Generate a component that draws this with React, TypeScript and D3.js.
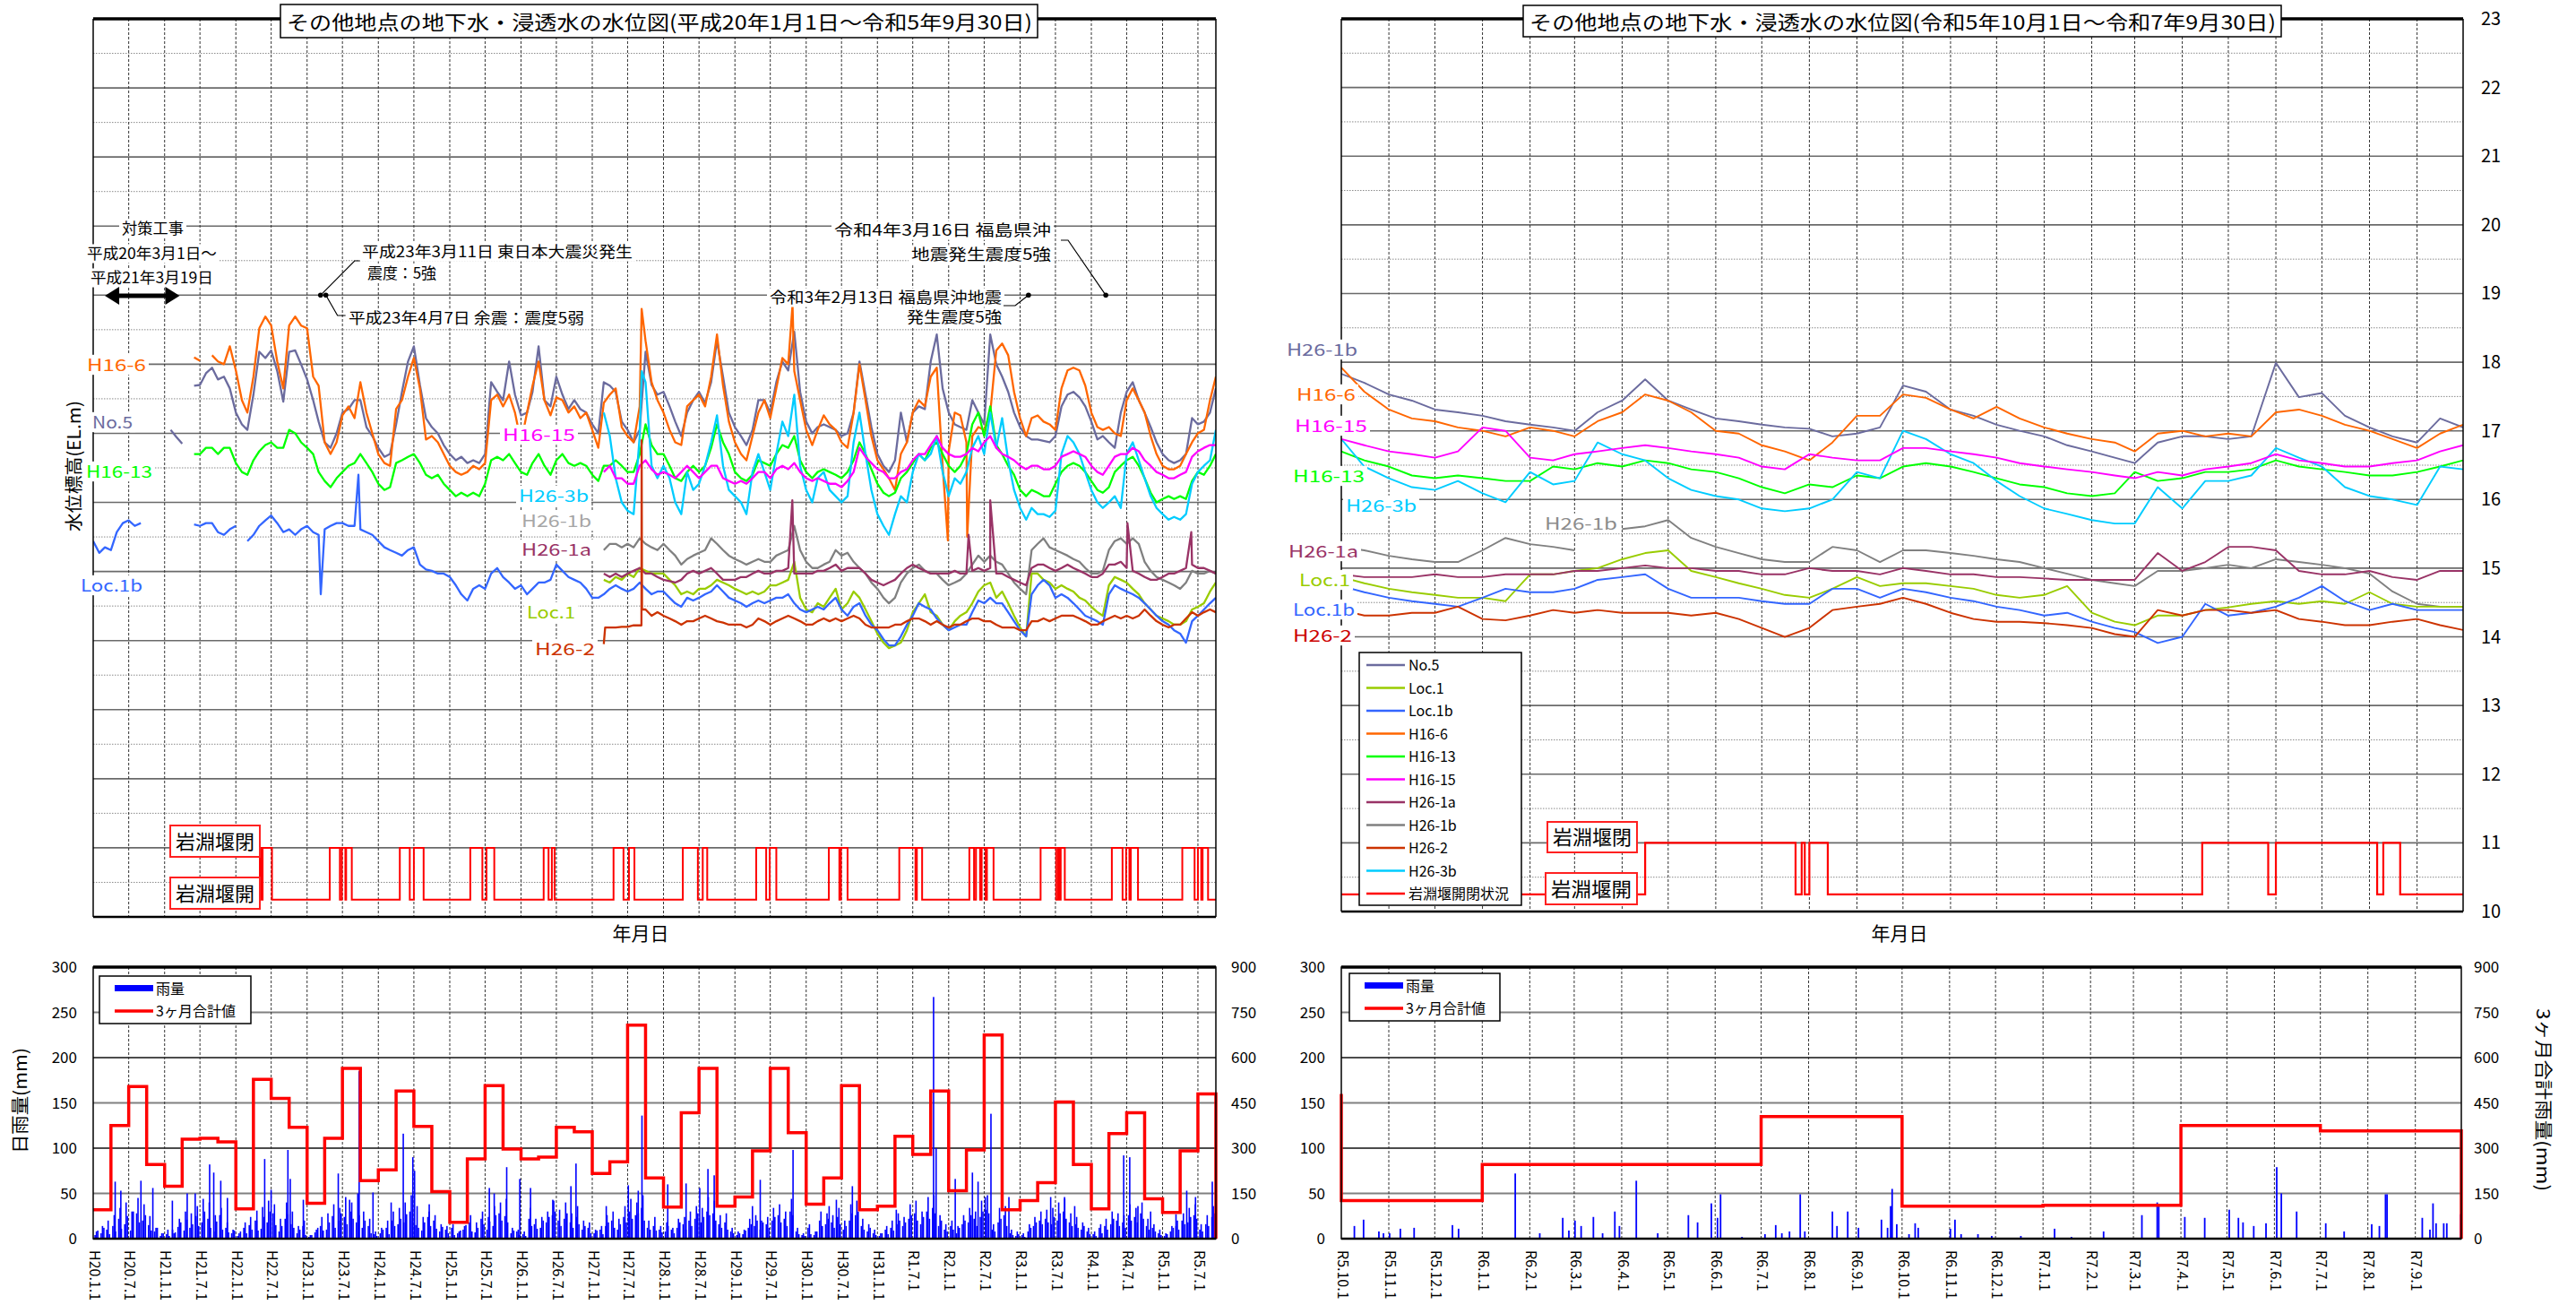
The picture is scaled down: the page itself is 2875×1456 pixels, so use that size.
import React from 'react';
import * as d3 from 'd3';

const FONT = '"Noto Sans CJK JP","Noto Sans",sans-serif';

// ---------------- colours ----------------
const C: any = {
  no5: '#6B6B9E', loc1: '#99CC00', loc1b: '#3366FF', h166: '#FF6600', h1613: '#00FF00',
  h1615: '#FF00FF', h261a: '#993366', h261b: '#808080', h262: '#CC3300', h263b: '#00CCFF', dam: '#FF0000',
};

// ---------------- left panel water levels (monthly, value on the 1st) ----------------
const NO5_L_START = '2009-02';
const NO5_L = [
  17.05, 16.95, 16.85, null, 17.69, 17.7, 17.87, 17.95, 17.78, 17.82, 17.65,
  17.3, 17.13, 17.05, 17.56, 18.18, 18.09, 18.2, 17.9, 17.46, 18.18, 18.2, 18.0,
  17.78, 17.48, 17.17, 16.87, 16.79, 17.0, 17.3, 17.35, 17.48, 17.48, 17.09, 16.96,
  16.79, 16.66, 16.7, 17.13, 17.6, 18.04, 18.26, 17.7, 17.22, 17.09, 17.0, 16.83,
  16.7, 16.61, 16.66, 16.57, 16.61, 16.57, 16.7, 17.74, 17.6, 17.48, 18.04, 17.56,
  17.26, 17.3, 17.6, 18.26, 17.48, 17.39, 17.82, 17.56, 17.35, 17.48, 17.35, 17.3,
  17.13, 17.0, 17.74, 17.69, 17.6, 17.17, 17.05, 16.87, 17.05, 18.18, 17.7, 17.56,
  17.6, 17.39, 17.17, 16.96, 17.3, 17.48, 17.6, 17.44, 17.74, 18.34, 17.82, 17.3,
  17.09, 16.96, 16.83, 17.05, 17.48, 17.48, 17.3, 17.74, 18.04, 17.91, 18.47, 17.6,
  17.17, 17.0, 17.09, 17.13, 17.09, 17.05, 16.96, 17.0, 17.3, 18.04, 17.56, 17.09,
  16.7, 16.53, 16.44, 16.61, 17.3, 16.87, 17.3, 17.39, 17.35, 18.04, 18.43, 17.65,
  17.3, 17.13, 17.09, 17.05, 17.48, 17.3, 17.13, 18.43, 18.0, 17.82, 17.6, 17.3,
  17.09, 16.96, 16.91, 16.91, 16.89, 16.87, 16.96, 17.39, 17.56, 17.6, 17.52, 17.39,
  17.17, 16.91, 16.96, 16.87, 16.79, 17.3, 17.6, 17.74, 17.48, 17.3, 17.09, 16.87,
  16.7, 16.61, 16.57, 16.61, 16.7, 17.22, 17.13, 17.17, 17.3, 17.65,
];
const H166_L_START = '2009-04';
const H166_L = [
  17.65, null, 18.1, 18.05, null, 18.13, 18.04, 18.0, 18.26,
  17.91, 17.48, 17.3, 17.82, 18.52, 18.69, 18.56, 18.04, 17.65, 18.56, 18.69, 18.56,
  18.52, 17.82, 17.69, 16.87, 16.7, 16.87, 17.26, 17.39, 17.22, 17.74, 17.3, 17.0,
  16.7, 16.57, 16.53, 17.35, 17.48, 17.82, 18.09, 17.65, 16.91, 16.96, 16.87, 16.7,
  16.53, 16.44, 16.4, 16.44, 16.53, 16.48, 16.57, 17.48, 17.56, 17.39, 17.56, 17.3,
  16.87, 17.3, 17.69, 18.04, 17.48, 17.26, 17.52, 17.48, 17.3, 17.39, 17.22, 17.3,
  17.05, 16.79, 17.44, 17.56, 17.65, 17.09, 16.96, 16.87, 17.39, 18.34, 17.74, 17.48,
  17.3, 17.05, 16.87, 16.83, 17.39, 17.48, 17.56, 17.39, 17.82, 18.43, 17.69, 17.17,
  16.87, 16.7, 16.61, 16.96, 17.3, 17.48, 17.22, 17.65, 18.09, 18.0, 17.9, 17.48,
  17.05, 16.83, 17.05, 17.26, 17.13, 17.05, 16.87, 16.79, 17.3, 18.0, 17.48, 16.96,
  16.61, 16.48, 16.35, 16.18, 16.7, 16.87, 17.3, 17.48, 17.39, 17.82, 17.95, 16.53,
  16.74, 17.3, 17.26, 16.87, 16.96, 17.09, 17.05, 17.3, 18.2, 18.3, 18.13, 17.6,
  17.22, 16.96, 17.22, 17.26, 17.17, 17.13, 17.05, 17.65, 17.91, 17.95, 17.91, 17.69,
  17.3, 17.09, 17.05, 17.09, 17.0, 16.96, 17.48, 17.65, 17.48, 17.3, 16.96, 16.7,
  16.53, 16.48, 16.48, 16.53, 16.7, 16.87, 17.0, 17.05, 17.48, 17.82,
];
const H166_L_SPIKES = [['2015-09-11', 18.8], ['2017-10-23', 18.86], ['2019-12-28', 15.45], ['2020-04-05', 15.5]];
const H1613_L_START = '2009-06';
const H1613_L = [
  16.7, 16.7, 16.79, 16.79, 16.7, 16.79, 16.79,
  16.57, 16.44, 16.4, 16.61, 16.74, 16.83, 16.87, 16.79, 16.79, 17.05, 17.0, 16.87,
  16.79, 16.7, 16.44, 16.31, 16.22, 16.35, 16.44, 16.53, 16.57, 16.7, 16.57, 16.44,
  16.27, 16.18, 16.22, 16.57, 16.61, 16.66, 16.7, 16.57, 16.4, 16.35, 16.4, 16.27,
  16.18, 16.09, 16.14, 16.09, 16.14, 16.09, 16.27, 16.61, 16.66, 16.61, 16.7, 16.57,
  16.44, 16.4, 16.57, 16.7, 16.53, 16.4, 16.61, 16.7, 16.57, 16.53, 16.57, 16.53,
  16.4, 16.31, 16.53, 16.53, 16.61, 16.53, 16.44, 16.44, 16.7, 17.13, 16.83, 16.7,
  16.7, 16.53, 16.35, 16.31, 16.44, 16.53, 16.44, 16.53, 16.79, 17.13, 16.87, 16.7,
  16.44, 16.35, 16.31, 16.4, 16.61, 16.57, 16.53, 16.7, 16.83, 16.79, 16.96, 16.61,
  16.44, 16.35, 16.44, 16.48, 16.44, 16.4, 16.35, 16.44, 16.61, 16.87, 16.7, 16.48,
  16.27, 16.14, 16.09, 16.14, 16.35, 16.44, 16.57, 16.7, 16.61, 16.79, 16.87, 16.7,
  16.53, 16.44, 16.53, 16.7, 17.13, 17.3, 16.96, 17.39, 16.83, 16.7, 16.53, 16.4,
  16.18, 16.09, 16.18, 16.14, 16.09, 16.09, 16.27, 16.44, 16.53, 16.57, 16.53, 16.44,
  16.31, 16.18, 16.14, 16.22, 16.44, 16.53, 16.61, 16.66, 16.53, 16.35, 16.14, 16.0,
  16.05, 16.09, 16.05, 16.09, 16.05, 16.31, 16.44, 16.4, 16.53, 16.7,
];
const H1615_L_START = '2015-03';
const H1615_L = [
  16.44, 16.53, 16.35, 16.35, 16.27, 16.27, 16.53, 16.61, 16.48, 16.4,
  16.44, 16.4, 16.35, 16.44, 16.53, 16.44, 16.35, 16.44, 16.53, 16.53,
  16.35, 16.31, 16.27, 16.31, 16.27, 16.35, 16.44, 16.44, 16.35, 16.48,
  16.53, 16.48, 16.57, 16.44, 16.35, 16.31, 16.35, 16.31, 16.27, 16.27,
  16.22, 16.31, 16.44, 16.79, 16.66, 16.57, 16.48, 16.44, 16.35, 16.35,
  16.44, 16.48, 16.61, 16.7, 16.7, 16.83, 16.96, 16.79, 16.7, 16.66,
  16.66, 16.7, 16.79, 16.74, 16.87, 16.96, 16.79, 16.7, 16.66, 16.61,
  16.53, 16.48, 16.53, 16.53, 16.48, 16.48, 16.53, 16.66, 16.7, 16.74,
  16.7, 16.66, 16.53, 16.44, 16.4, 16.53, 16.66, 16.7, 16.7, 16.79,
  16.74, 16.61, 16.53, 16.44, 16.4, 16.35, 16.35, 16.4, 16.44, 16.66,
  16.74, 16.79, 16.83, 16.83,
];
const H263B_L_START = '2015-03';
const H263B_L = [
  17.3, 16.96, 16.35, 16.0, 15.88, 15.83, 16.96, 17.74, 16.53, 16.35,
  16.53, 16.35, 16.0, 15.83, 16.44, 16.18, 16.27, 16.53, 16.87, 17.26,
  16.53, 16.18, 16.09, 16.0, 15.83, 16.44, 16.7, 16.44, 16.18, 16.7,
  17.17, 16.96, 17.56, 16.53, 16.18, 16.0, 16.35, 16.44, 16.18, 16.09,
  16.0, 16.09, 16.87, 17.3, 16.7, 16.18, 15.83, 15.66, 15.53, 15.83,
  16.09, 16.0, 16.44, 16.7, 16.61, 16.7, 16.96, 16.44, 16.09, 16.35,
  16.27, 16.44, 16.79, 16.96, 16.7, 17.3, 16.79, 17.22, 16.61, 16.18,
  15.92, 15.75, 15.92, 15.83, 15.83, 15.79, 15.88, 16.7, 16.96, 16.87,
  16.7, 16.44, 16.18, 16.0, 15.92, 16.0, 16.09, 15.92, 16.7, 16.87,
  16.61, 16.35, 16.09, 15.92, 15.83, 15.75, 15.79, 15.75, 15.83, 16.27,
  16.44, 16.53, 16.61, 17.05,
];
const H263B_L_SPIKES = [['2015-09-11', 17.9]];
const LOC1B_L_START = '2008-01';
const LOC1B_L = [
  15.44, 15.27, 15.35, 15.31, 15.57, 15.7, 15.74, 15.66, 15.7,
  null, null, null, null, null, null, null, null,
  15.68, 15.66, 15.7, 15.7, 15.57, 15.53, 15.61, 15.66, null,
  15.44, 15.53, 15.66, 15.74, 15.81, 15.7, 15.57, 15.61, 15.53, 15.61,
  15.66, 15.57, 15.53, 15.61, 15.66, 15.7, 15.7, 15.66, 15.66, 15.61,
  15.57, 15.53, 15.44, 15.35, 15.31, 15.27, 15.23, 15.31, 15.35, 15.1,
  15.03, 15.01, 14.97, 14.97, 14.92, 14.8, 14.67, 14.58, 14.75, 14.8,
  14.75, 14.97, 15.05, 14.92, 14.84, 14.75, 14.8, 14.67, 14.75, 14.84,
  14.84, 14.88, 15.1, 15.01, 14.92, 14.88, 14.84, 14.75, 14.62, 14.62,
  14.67, 14.75, 14.8, 14.75, 14.71, 14.75, 14.84, 14.75, 14.67, 14.71,
  14.71, 14.62, 14.54, 14.49, 14.62, 14.58, 14.62, 14.67, 14.71, 14.8,
  14.71, 14.62, 14.58, 14.54, 14.49, 14.54, 14.58, 14.54, 14.58, 14.62,
  14.62, 14.67, 14.54, 14.45, 14.41, 14.45, 14.49, 14.45, 14.54, 14.62,
  14.45, 14.36, 14.49, 14.54, 14.36, 14.23, 14.15, 14.02, 13.93, 13.93,
  14.06, 14.23, 14.36, 14.54, 14.49, 14.45, 14.32, 14.23, 14.15, 14.19,
  14.23, 14.23, 14.41, 14.58, 14.54, 14.62, 14.54, 14.54, 14.41, 14.28,
  14.15, 14.06, 14.67, 14.8, 14.88, 14.8, 14.62, 14.67, 14.62, 14.54,
  14.45, 14.36, 14.32, 14.28, 14.23, 14.67, 14.8, 14.75, 14.71, 14.67,
  14.62, 14.54, 14.45, 14.36, 14.28, 14.23, 14.15, 14.1, 13.97, 14.28,
  14.36, 14.45, 14.54, 14.62,
];
const LOC1B_L_SPIKES = [['2011-03-12', 14.67], ['2011-09-21', 16.4]];
const LOC1_L_START = '2015-03';
const LOC1_L = [
  14.88, 14.84, 14.92, 14.88, 14.97, 14.92, 15.05, 15.01, 14.97, 14.97,
  14.97, 14.88, 14.8, 14.67, 14.71, 14.67, 14.75, 14.75, 14.8, 14.88,
  14.84, 14.8, 14.75, 14.71, 14.67, 14.71, 14.67, 14.71, 14.8, 14.8,
  14.84, 14.88, 15.14, 14.62, 14.45, 14.41, 14.54, 14.49, 14.62, 14.75,
  14.45, 14.54, 14.71, 14.62, 14.45, 14.28, 14.1, 13.97, 13.89, 13.93,
  13.97, 14.15, 14.41, 14.54, 14.67, 14.41, 14.36, 14.23, 14.15, 14.28,
  14.36, 14.41, 14.54, 14.71, 14.8, 14.84, 14.62, 14.71, 14.54, 14.36,
  14.19, 14.06, 14.97, 14.97, 14.88, 14.84, 14.75, 14.8, 14.75, 14.71,
  14.62, 14.58, 14.49, 14.41, 14.36, 14.8, 14.92, 14.88, 14.84, 14.75,
  14.67, 14.54, 14.45, 14.36, 14.32, 14.28, 14.23, 14.23, 14.28, 14.45,
  14.49, 14.54, 14.71, 14.84,
];
const H261A_L_START = '2015-03';
const H261A_L = [
  14.97, 14.92, 14.97, 14.92, 14.97, 15.01, 15.05, 14.97, 14.97, 14.92,
  14.88, 14.86, 14.84, 14.88, 14.97, 15.01, 14.97, 15.01, 15.05, 14.97,
  14.88, 14.88, 14.88, 14.92, 14.92, 14.97, 15.01, 14.97, 14.97, 15.01,
  15.01, 15.05, 14.97, 14.97, 14.97, 14.97, 15.01, 15.01, 15.05, 15.1,
  15.01, 15.05, 15.05, 15.05, 14.97, 14.88, 14.84, 14.8, 14.84, 14.88,
  14.97, 15.05, 15.1, 15.05, 15.01, 14.97, 14.97, 14.97, 14.97, 15.01,
  14.97, 14.97, 15.01, 15.05, 15.01, 15.05, 14.97, 14.97, 14.92, 14.88,
  14.84, 14.8, 15.05, 15.1, 15.1, 15.05, 15.01, 15.05, 15.1, 15.05,
  15.01, 14.97, 14.92, 14.92, 14.97, 15.1, 15.1, 15.14, 15.05, 15.01,
  14.97, 14.92, 14.88, 14.88, 14.92, 14.97, 14.97, 15.01, 15.05, 15.1,
  15.05, 15.05, 15.01, 14.97,
];
const H261A_L_SPIKES = [['2017-10-22', 16.03], ['2020-04-12', 15.53], ['2020-08-01', 16.03], ['2022-07-05', 15.7], ['2023-05-28', 15.57]];
const H261B_L_START = '2015-03';
const H261B_L = [
  15.31, 15.4, 15.4, 15.35, 15.4, 15.35, 15.48, 15.4, 15.35, 15.31,
  15.4, 15.31, 15.23, 15.1, 15.18, 15.23, 15.27, 15.31, 15.48, 15.4,
  15.31, 15.23, 15.18, 15.14, 15.1, 15.14, 15.18, 15.14, 15.14, 15.23,
  15.27, 15.31, 15.66, 15.31, 15.14, 15.05, 15.05, 15.1, 15.14, 15.31,
  15.23, 15.27, 15.14, 15.05, 14.97, 14.84, 14.75, 14.62, 14.54, 14.62,
  14.84, 14.97, 15.05, 15.1, 15.01, 14.97, 14.97, 14.88, 14.8, 14.84,
  14.88, 14.97, 15.1, 15.23, 15.14, 15.23, 15.14, 15.1, 14.97, 14.84,
  14.75, 14.67, 15.31, 15.4, 15.48, 15.35, 15.31, 15.27, 15.23, 15.18,
  15.14, 15.05, 14.97, 14.97, 15.01, 15.31, 15.44, 15.48, 15.4, 15.48,
  15.4, 15.14, 15.01, 14.92, 14.88, 14.84, 14.8, 14.75, 14.84, 15.01,
  14.97, 14.97, 15.01, 14.97,
];
const H262_L_START = '2015-03';
const H262_L = [
  13.95, 14.19, 14.19, 14.2, 14.2, 14.22, 14.22, 14.45, 14.36, 14.41,
  14.36, 14.32, 14.28, 14.23, 14.28, 14.28, 14.32, 14.36, 14.32, 14.28,
  14.26, 14.23, 14.23, 14.23, 14.19, 14.23, 14.32, 14.28, 14.23, 14.28,
  14.32, 14.36, 14.32, 14.28, 14.23, 14.23, 14.28, 14.32, 14.28, 14.32,
  14.28, 14.32, 14.36, 14.32, 14.23, 14.19, 14.19, 14.19, 14.19, 14.23,
  14.23, 14.28, 14.32, 14.32, 14.28, 14.23, 14.28, 14.23, 14.19, 14.23,
  14.23, 14.28, 14.32, 14.32, 14.28, 14.28, 14.23, 14.19, 14.19, 14.19,
  14.15, 14.15, 14.28, 14.28, 14.32, 14.28, 14.32, 14.36, 14.36, 14.36,
  14.32, 14.28, 14.23, 14.23, 14.28, 14.32, 14.36, 14.32, 14.36, 14.32,
  14.36, 14.45, 14.36, 14.28, 14.23, 14.19, 14.23, 14.23, 14.32, 14.41,
  14.36, 14.41, 14.45, 14.41,
];
const H262_L_SPIKES = [['2015-03-08', 14.19], ['2015-09-10', 14.22], ['2015-09-11', 16.9], ['2015-09-13', 14.45]];

// ---------------- right panel water levels (1st and 16th of each month) ----------------
const R_START = '2023-10';
const NO5_R = [17.83, 17.7, 17.53, 17.44, 17.31, 17.27, 17.22, 17.14, 17.09, 17.05, 17.0, 17.27, 17.44, 17.75, 17.44, 17.31, 17.18, 17.14, 17.09, 17.05, 17.03, 16.92, 16.96, 17.05, 17.66, 17.57, 17.31, 17.22, 17.09, 17.0, 16.92, 16.79, 16.7, 16.61, 16.53, 16.83, 16.92, 16.92, 16.88, 16.92, 17.99, 17.49, 17.55, 17.22, 17.05, 16.92, 16.83, 17.18, 17.05];
const H166_R = [17.92, 17.57, 17.31, 17.18, 17.14, 17.05, 17.0, 16.92, 17.05, 17.0, 16.92, 17.14, 17.27, 17.53, 17.44, 17.27, 17.0, 16.96, 16.79, 16.7, 16.57, 16.83, 17.22, 17.22, 17.53, 17.48, 17.31, 17.18, 17.35, 17.18, 17.05, 16.96, 16.88, 16.83, 16.7, 16.96, 17.0, 16.92, 16.96, 16.92, 17.27, 17.31, 17.22, 17.09, 17.0, 16.88, 16.75, 16.96, 17.09];
const H1615_R = [16.88, 16.79, 16.7, 16.66, 16.61, 16.7, 17.05, 17.0, 16.61, 16.57, 16.66, 16.7, 16.75, 16.79, 16.75, 16.7, 16.66, 16.61, 16.48, 16.44, 16.66, 16.61, 16.57, 16.57, 16.75, 16.75, 16.7, 16.66, 16.61, 16.53, 16.48, 16.44, 16.4, 16.35, 16.31, 16.4, 16.35, 16.44, 16.48, 16.53, 16.66, 16.57, 16.53, 16.48, 16.48, 16.53, 16.57, 16.7, 16.79];
const H1613_R = [16.7, 16.57, 16.48, 16.35, 16.31, 16.35, 16.31, 16.27, 16.27, 16.48, 16.44, 16.53, 16.48, 16.57, 16.53, 16.44, 16.4, 16.31, 16.18, 16.09, 16.22, 16.18, 16.35, 16.31, 16.48, 16.53, 16.48, 16.4, 16.31, 16.22, 16.18, 16.09, 16.05, 16.09, 16.4, 16.27, 16.31, 16.4, 16.4, 16.44, 16.57, 16.48, 16.44, 16.4, 16.35, 16.35, 16.4, 16.48, 16.57];
const H263B_R = [16.88, 16.48, 16.31, 16.18, 16.14, 16.27, 16.09, 15.96, 16.4, 16.22, 16.27, 16.83, 16.66, 16.57, 16.31, 16.14, 16.05, 16.0, 15.87, 15.83, 15.87, 16.0, 16.4, 16.31, 17.0, 16.88, 16.66, 16.53, 16.27, 16.05, 15.87, 15.79, 15.7, 15.65, 15.65, 16.18, 15.87, 16.27, 16.27, 16.35, 16.75, 16.61, 16.48, 16.18, 16.05, 16.0, 15.92, 16.48, 16.44];
const H261B_R = [15.31, 15.26, 15.18, 15.13, 15.09, 15.09, 15.26, 15.44, 15.35, 15.31, 15.26, null, 15.57, 15.61, 15.7, 15.44, 15.31, 15.22, 15.13, 15.09, 15.09, 15.31, 15.26, 15.09, 15.26, 15.26, 15.22, 15.18, 15.13, 15.09, 15.0, 14.92, 14.83, 14.78, 14.74, 14.96, 14.96, 15.0, 15.05, 15.0, 15.13, 15.09, 15.05, 15.0, 14.92, 14.66, 14.48, 14.44, 14.44];
const LOC1_R = [14.87, 14.78, 14.7, 14.65, 14.61, 14.57, 14.57, 14.52, 14.91, 14.91, 14.96, 15.0, 15.13, 15.22, 15.26, 14.96, 14.87, 14.78, 14.7, 14.61, 14.57, 14.7, 14.87, 14.74, 14.78, 14.78, 14.74, 14.7, 14.61, 14.57, 14.61, 14.74, 14.35, 14.22, 14.17, 14.31, 14.31, 14.39, 14.43, 14.48, 14.52, 14.48, 14.52, 14.48, 14.65, 14.48, 14.44, 14.44, 14.44];
const LOC1B_R = [14.74, 14.65, 14.57, 14.52, 14.48, 14.44, 14.57, 14.7, 14.65, 14.65, 14.7, 14.83, 14.87, 14.91, 14.7, 14.57, 14.57, 14.57, 14.52, 14.48, 14.48, 14.7, 14.7, 14.57, 14.7, 14.65, 14.57, 14.52, 14.44, 14.39, 14.31, 14.35, 14.22, 14.13, 14.07, 13.91, 14.0, 14.48, 14.31, 14.35, 14.44, 14.57, 14.74, 14.52, 14.39, 14.48, 14.39, 14.39, 14.39];
const H261A_R = [14.91, 14.87, 14.87, 14.87, 14.91, 14.87, 14.87, 14.91, 14.91, 14.91, 14.96, 14.96, 15.0, 15.04, 15.0, 15.0, 14.96, 14.96, 14.91, 14.91, 15.0, 14.96, 14.96, 14.91, 15.0, 14.96, 14.91, 14.91, 14.87, 14.87, 14.85, 14.83, 14.83, 14.83, 14.83, 15.22, 14.96, 15.09, 15.31, 15.31, 15.26, 14.96, 14.91, 14.91, 14.96, 14.87, 14.83, 14.96, 14.96];
const H262_R = [14.39, 14.31, 14.31, 14.35, 14.35, 14.44, 14.26, 14.24, 14.31, 14.39, 14.35, 14.39, 14.35, 14.35, 14.35, 14.31, 14.35, 14.26, 14.13, 14.0, 14.13, 14.39, 14.44, 14.48, 14.57, 14.48, 14.35, 14.26, 14.22, 14.22, 14.2, 14.17, 14.13, 14.04, 14.0, 14.39, 14.31, 14.39, 14.39, 14.35, 14.39, 14.26, 14.22, 14.17, 14.17, 14.22, 14.26, 14.17, 14.1];

// ---------------- 岩淵堰 closed periods ----------------
const DAM_L_START = '2010-05-01';
const DAM_L_CLOSED = [
  ['2010-05-04', '2010-05-12'], ['2010-05-18', '2010-07-05'],
  ['2011-04-27', '2011-06-18'], ['2011-06-28', '2011-07-16'], ['2011-07-20', '2011-08-18'],
  ['2012-04-20', '2012-06-10'], ['2012-07-01', '2012-08-20'],
  ['2013-04-16', '2013-06-17'], ['2013-07-08', '2013-08-17'],
  ['2014-04-27', '2014-05-22'], ['2014-06-08', '2014-06-22'],
  ['2015-04-20', '2015-06-10'], ['2015-07-08', '2015-08-05'],
  ['2016-04-09', '2016-06-25'], ['2016-07-20', '2016-08-12'],
  ['2017-04-20', '2017-06-10'], ['2017-06-28', '2017-08-01'],
  ['2018-04-27', '2018-06-20'], ['2018-06-28', '2018-08-01'],
  ['2019-04-23', '2019-07-15'], ['2019-07-22', '2019-08-18'],
  ['2020-04-16', '2020-05-10'], ['2020-05-20', '2020-06-10'], ['2020-06-18', '2020-07-08'], ['2020-07-15', '2020-08-18'],
  ['2021-04-16', '2021-07-05'], ['2021-07-15', '2021-07-22'], ['2021-07-28', '2021-08-18'],
  ['2022-04-16', '2022-06-10'], ['2022-06-28', '2022-07-15'], ['2022-07-22', '2022-08-28'],
  ['2023-04-12', '2023-06-14'], ['2023-07-01', '2023-07-18'], ['2023-07-25', '2023-08-22'],
];
const DAM_R_CLOSED = [
  ['2024-04-16', '2024-07-23'], ['2024-07-27', '2024-07-29'], ['2024-08-01', '2024-08-13'],
  ['2025-04-14', '2025-05-27'], ['2025-06-01', '2025-08-06'], ['2025-08-10', '2025-08-21'],
];
const DAM_OPEN = 10.25;
const DAM_SHUT = 11.0;

// ---------------- rainfall ----------------
// 3-month totals (mm), quarters from 2008-01
const RAIN_Q_L = [
  96, 375, 504, 246, 174, 330, 333, 321, 99, 528, 465, 369, 117, 333, 564, 192,
  228, 489, 372, 156, 54, 264, 507, 297, 264, 270, 369, 354, 216, 255, 708, 201,
  105, 417, 564, 108, 138, 291, 564, 351, 114, 201, 507, 96, 108, 339, 279, 489,
  159, 294, 675, 96, 126, 186, 453, 246, 99, 348, 417, 132, 87, 291, 480,
];
const RAIN_Q_R_PREV = 480;
const RAIN_Q_R = [126, 246, 246, 405, 108, 111, 375, 357];

// notable daily rainfall (mm)
const RAIN_L_BIG = [
  ['2008-04-19', 63], ['2008-05-18', 53], ['2008-08-29', 64], ['2008-10-29', 56], ['2009-02-06', 42], ['2009-04-23', 50],
  ['2009-06-03', 50], ['2009-08-16', 82], ['2009-09-06', 73], ['2009-10-12', 64], ['2009-11-15', 45], ['2010-04-15', 31],
  ['2010-05-25', 88], ['2010-06-27', 54], ['2010-09-21', 98], ['2010-10-03', 66], ['2010-12-09', 43], ['2011-06-06', 72],
  ['2011-08-03', 43], ['2011-09-21', 185], ['2011-12-01', 51], ['2012-03-03', 40], ['2012-05-04', 116], ['2012-06-22', 90],
  ['2012-07-01', 75], ['2012-09-13', 30], ['2013-07-19', 56], ['2013-08-13', 50], ['2013-10-16', 79], ['2013-12-22', 66],
  ['2014-02-15', 56], ['2014-06-09', 43], ['2014-09-10', 58], ['2014-10-06', 83], ['2015-03-10', 36], ['2015-07-01', 59],
  ['2015-08-21', 53], ['2015-09-09', 136], ['2016-01-19', 60], ['2016-04-22', 61], ['2016-07-01', 56], ['2016-08-12', 77],
  ['2016-09-13', 70], ['2017-03-28', 36], ['2017-05-07', 65], ['2017-10-22', 98], ['2018-04-25', 36], ['2018-06-01', 43],
  ['2018-08-22', 58], ['2019-04-04', 32], ['2019-10-12', 267], ['2019-10-25', 100], ['2020-01-31', 66], ['2020-04-28', 73],
  ['2020-05-27', 63], ['2020-07-03', 46], ['2020-08-01', 138], ['2020-11-01', 46], ['2021-06-03', 46], ['2021-08-13', 46],
  ['2021-10-04', 36], ['2022-06-12', 92], ['2022-07-13', 90], ['2022-08-24', 36], ['2022-10-28', 30], ['2023-03-07', 27],
  ['2023-05-01', 53], ['2023-06-15', 46], ['2023-09-09', 63],
];
// typical daily rainfall, two readings per month (7th, 21st) from 2008-01
const RAIN_L_SMALL = [
  4, 9, 6, 12, 10, 5, 14, 8, 22, 11, 16, 25, 9, 30, 28, 18, 20, 26, 15, 9, 8, 12, 3, 6,
  5, 3, 10, 7, 13, 18, 9, 21, 12, 16, 25, 14, 18, 30, 22, 12, 8, 19, 26, 10, 12, 7, 6, 9,
  3, 8, 12, 6, 15, 10, 20, 9, 11, 24, 18, 30, 28, 15, 8, 14, 22, 27, 16, 12, 6, 10, 14, 4,
  2, 4, 7, 12, 14, 9, 10, 18, 25, 12, 20, 28, 24, 16, 30, 22, 18, 26, 12, 20, 14, 6, 5, 3,
  6, 10, 12, 5, 20, 14, 16, 22, 18, 27, 30, 20, 15, 12, 9, 18, 24, 14, 20, 11, 8, 13, 10, 6,
  12, 4, 6, 9, 10, 15, 18, 8, 7, 12, 22, 16, 10, 19, 14, 26, 28, 20, 25, 18, 6, 9, 8, 4,
  5, 3, 22, 14, 16, 11, 12, 20, 18, 24, 26, 30, 20, 14, 22, 28, 18, 12, 24, 16, 10, 14, 12, 6,
  6, 9, 10, 5, 14, 18, 20, 12, 10, 16, 24, 18, 30, 22, 26, 28, 34, 20, 12, 10, 14, 9, 10, 7,
  8, 14, 10, 6, 12, 18, 16, 10, 20, 14, 22, 28, 18, 24, 30, 26, 28, 20, 16, 12, 18, 10, 8, 6,
  4, 6, 5, 9, 12, 16, 14, 20, 10, 18, 16, 12, 20, 24, 26, 18, 22, 14, 30, 26, 8, 5, 4, 3,
  12, 5, 4, 8, 20, 14, 16, 22, 18, 12, 24, 16, 10, 14, 20, 28, 26, 30, 14, 10, 8, 12, 6, 4,
  3, 6, 10, 5, 12, 9, 16, 20, 14, 18, 22, 26, 28, 20, 16, 24, 30, 22, 34, 28, 14, 20, 10, 8,
  14, 10, 6, 12, 16, 20, 18, 26, 22, 14, 24, 30, 32, 28, 10, 8, 18, 22, 26, 14, 6, 4, 3, 5,
  4, 2, 8, 12, 14, 18, 20, 16, 22, 18, 16, 24, 20, 28, 30, 22, 18, 14, 16, 12, 10, 14, 8, 5,
  5, 3, 12, 6, 14, 10, 16, 22, 20, 14, 18, 12, 26, 20, 24, 18, 28, 22, 14, 10, 12, 8, 6, 4,
  3, 5, 8, 12, 14, 10, 20, 16, 18, 24, 26, 22, 10, 8, 16, 14, 24, 28,
];
// medium daily rainfall reading per month (14th) from 2008-01
const RAIN_L_MID = [
  8, 14, 20, 26, 34, 40, 30, 45, 38, 25, 12, 6,
  10, 6, 22, 30, 28, 36, 44, 40, 26, 34, 18, 10,
  6, 18, 24, 20, 35, 42, 38, 22, 40, 30, 14, 20,
  4, 10, 24, 28, 38, 34, 46, 40, 50, 30, 22, 8,
  12, 20, 30, 34, 40, 48, 36, 24, 38, 26, 16, 14,
  16, 8, 14, 26, 18, 30, 24, 36, 40, 44, 12, 10,
  8, 34, 22, 24, 30, 42, 32, 40, 28, 36, 20, 18,
  10, 14, 26, 30, 22, 36, 44, 40, 48, 20, 24, 14,
  18, 12, 22, 24, 30, 36, 34, 46, 42, 26, 28, 12,
  8, 10, 22, 26, 20, 24, 34, 38, 30, 44, 12, 6,
  16, 8, 30, 28, 26, 34, 20, 38, 42, 22, 16, 10,
  6, 14, 20, 28, 24, 38, 42, 30, 46, 48, 26, 16,
  20, 14, 26, 34, 30, 42, 48, 16, 34, 36, 10, 8,
  6, 16, 24, 30, 32, 34, 40, 44, 28, 24, 18, 12,
  8, 16, 22, 30, 28, 26, 38, 34, 40, 22, 16, 10,
  6, 14, 20, 28, 34, 38, 16, 26, 36,
];
const RAIN_R = [
  ['2023-10-09', 14], ['2023-10-15', 21], ['2023-10-25', 8], ['2023-10-28', 6], ['2023-11-01', 6], ['2023-11-08', 11],
  ['2023-11-17', 12], ['2023-12-12', 15], ['2023-12-16', 11], ['2024-01-22', 72], ['2024-02-07', 6], ['2024-02-22', 23],
  ['2024-02-26', 9], ['2024-03-01', 20], ['2024-03-05', 14], ['2024-03-13', 24], ['2024-03-19', 6], ['2024-03-27', 30],
  ['2024-03-30', 14], ['2024-04-10', 64], ['2024-04-24', 6], ['2024-05-14', 26], ['2024-05-20', 18], ['2024-05-29', 39],
  ['2024-06-02', 23], ['2024-06-04', 49], ['2024-06-18', 2], ['2024-07-03', 5], ['2024-07-10', 15], ['2024-07-14', 6],
  ['2024-07-19', 8], ['2024-07-26', 49], ['2024-07-29', 8], ['2024-08-16', 30], ['2024-08-19', 14], ['2024-08-26', 30],
  ['2024-09-02', 12], ['2024-09-17', 21], ['2024-09-21', 12], ['2024-09-23', 36], ['2024-09-24', 55], ['2024-09-27', 16],
  ['2024-10-05', 5], ['2024-10-09', 17], ['2024-10-11', 12], ['2024-11-01', 11], ['2024-11-04', 21], ['2024-11-08', 5],
  ['2024-11-19', 5], ['2024-11-28', 3], ['2024-12-17', 3], ['2025-01-08', 11], ['2025-01-19', 2], ['2025-02-09', 8],
  ['2025-03-06', 26], ['2025-03-16', 40], ['2025-03-17', 38], ['2025-04-03', 24], ['2025-04-16', 23], ['2025-05-02', 32],
  ['2025-05-08', 23], ['2025-05-11', 18], ['2025-05-18', 14], ['2025-05-26', 17], ['2025-06-02', 79], ['2025-06-05', 50],
  ['2025-06-15', 30], ['2025-07-04', 17], ['2025-07-16', 8], ['2025-08-03', 16], ['2025-08-08', 14], ['2025-08-12', 49],
  ['2025-08-13', 49], ['2025-09-05', 23], ['2025-09-10', 10], ['2025-09-12', 39], ['2025-09-14', 17], ['2025-09-19', 17],
  ['2025-09-21', 17], ['2025-09-30', 27],
];

// ---------------- helpers ----------------
const pd = (s: string) => { const [y, m, d] = s.split('-').map(Number); return new Date(y, m - 1, d || 1); };
const monthly = (start: string, vals: any[], spikes: any[] = []) => {
  const s = pd(start);
  const pts = vals.map((v, i) => ({ d: new Date(s.getFullYear(), s.getMonth() + i, 1), v }));
  spikes.forEach(([ds, v]) => pts.push({ d: pd(ds), v }));
  return pts.sort((a, b) => +a.d - +b.d);
};
const semimonthly = (start: string, vals: any[]) => {
  const s = pd(start);
  return vals.map((v, i) => ({ d: new Date(s.getFullYear(), s.getMonth() + Math.floor(i / 2), i % 2 ? 16 : 1), v }));
};
const damSteps = (start: Date, end: Date, closed: any[]) => {
  const pts = [{ d: start, v: DAM_OPEN }];
  closed.forEach(([a, b]) => { pts.push({ d: pd(a), v: DAM_SHUT }); pts.push({ d: pd(b), v: DAM_OPEN }); });
  pts.push({ d: end, v: DAM_OPEN });
  return pts;
};
const eraLabel = (d: Date) => {
  const y = d.getFullYear(), m = d.getMonth() + 1;
  return d >= new Date(2019, 4, 1) ? `R${y - 2018}.${m}.1` : `H${y - 1988}.${m}.1`;
};

const Lbl = ({ t, x0, x1, cy, color = '#000', size = 18, bg = true }: any) => (
  <g>
    {bg && <rect x={x0 - 3} y={cy - size * 0.62} width={x1 - x0 + 6} height={size * 1.24} fill="#fff" />}
    <text x={x0} y={cy + size * 0.37} fontSize={size} fill={color} fontFamily={FONT}
      textLength={x1 - x0} lengthAdjust="spacingAndGlyphs">{t}</text>
  </g>
);

export default function App() {
  const dL0 = new Date(2008, 0, 1), dL1 = new Date(2023, 9, 1);
  const dR0 = new Date(2023, 9, 1), dR1 = new Date(2025, 9, 1);
  const xL = d3.scaleTime().domain([dL0, dL1]).range([104, 1357]);
  const xR = d3.scaleTime().domain([dR0, dR1]).range([1497, 2749]);
  const xRB = d3.scaleTime().domain([dR0, dR1]).range([1497, 2747]);
  const yLT = d3.scaleLinear().domain([10, 23]).range([1023, 21]);
  const yRT = d3.scaleLinear().domain([10, 23]).range([1017, 21]);
  const yRain = d3.scaleLinear().domain([0, 300]).range([1382, 1079]);
  const yRain3 = d3.scaleLinear().domain([0, 900]).range([1382, 1079]);

  const seriesL = [
    { c: C.no5, p: monthly(NO5_L_START, NO5_L) },
    { c: C.h166, p: monthly(H166_L_START, H166_L, H166_L_SPIKES) },
    { c: C.h1613, p: monthly(H1613_L_START, H1613_L) },
    { c: C.h263b, p: monthly(H263B_L_START, H263B_L, H263B_L_SPIKES) },
    { c: C.h1615, p: monthly(H1615_L_START, H1615_L) },
    { c: C.h261b, p: monthly(H261B_L_START, H261B_L) },
    { c: C.loc1, p: monthly(LOC1_L_START, LOC1_L) },
    { c: C.loc1b, p: monthly(LOC1B_L_START, LOC1B_L, LOC1B_L_SPIKES) },
    { c: C.h261a, p: monthly(H261A_L_START, H261A_L, H261A_L_SPIKES) },
    { c: C.h262, p: monthly(H262_L_START, H262_L, H262_L_SPIKES) },
  ];
  const seriesR = [
    { c: C.no5, p: semimonthly(R_START, NO5_R) },
    { c: C.h166, p: semimonthly(R_START, H166_R) },
    { c: C.h1613, p: semimonthly(R_START, H1613_R) },
    { c: C.h263b, p: semimonthly(R_START, H263B_R) },
    { c: C.h1615, p: semimonthly(R_START, H1615_R) },
    { c: C.h261b, p: semimonthly(R_START, H261B_R) },
    { c: C.loc1, p: semimonthly(R_START, LOC1_R) },
    { c: C.loc1b, p: semimonthly(R_START, LOC1B_R) },
    { c: C.h261a, p: semimonthly(R_START, H261A_R) },
    { c: C.h262, p: semimonthly(R_START, H262_R) },
  ];
  const lineL = d3.line<any>().defined(p => p.v != null).x(p => xL(p.d)).y(p => yLT(p.v));
  const lineR = d3.line<any>().defined(p => p.v != null).x(p => xR(p.d)).y(p => yRT(p.v));
  const damL = d3.line<any>().curve(d3.curveStepAfter).x(p => xL(p.d)).y(p => yLT(p.v))(damSteps(pd(DAM_L_START), dL1, DAM_L_CLOSED));
  const damR = d3.line<any>().curve(d3.curveStepAfter).x(p => xR(p.d)).y(p => yRT(p.v))(damSteps(dR0, dR1, DAM_R_CLOSED));

  // quarterly rain step
  const qL = RAIN_Q_L.map((v, i) => ({ d: new Date(2008, i * 3, 1), v }));
  qL.push({ d: dL1, v: RAIN_Q_L[RAIN_Q_L.length - 1] }, { d: dL1, v: 0 });
  const qR = [{ d: dR0, v: RAIN_Q_R_PREV }, ...RAIN_Q_R.map((v, i) => ({ d: new Date(2023, 9 + i * 3, 1), v }))];
  qR.push({ d: dR1, v: RAIN_Q_R[RAIN_Q_R.length - 1] }, { d: dR1, v: 0 });
  const stepL = d3.line<any>().curve(d3.curveStepAfter).x(p => xL(p.d)).y(p => yRain3(p.v))(qL);
  const stepR = d3.line<any>().curve(d3.curveStepAfter).x(p => xRB(p.d)).y(p => yRain3(p.v))(qR);

  const smallL = RAIN_L_SMALL.map((v, i) => [new Date(2008, Math.floor(i / 2), i % 2 ? 21 : 7), v]);
  const midL = RAIN_L_MID.map((v, i) => [new Date(2008, i, 14), v]);
  const barsL: any[] = [...smallL, ...midL, ...RAIN_L_BIG.map(([d, v]: any) => [pd(d), v])];
  const barsR: any[] = RAIN_R.map(([d, v]: any) => [pd(d), v]);

  const vTicksL = xL.ticks(d3.timeMonth.every(6) as any).filter(d => +d > +dL0 && +d < +dL1);
  const vTicksR = xR.ticks(d3.timeMonth.every(1) as any).filter(d => +d > +dR0 && +d < +dR1);
  const labTicksL = xL.ticks(d3.timeMonth.every(6) as any).filter(d => +d < +dL1);
  const labTicksR = xR.ticks(d3.timeMonth.every(1) as any).filter(d => +d < +dR1);
  const hLevels = d3.range(10.5, 23, 0.5);

  const gridTop = (x0: number, x1: number, y: any, vt: Date[], x: any, yTop: number, yBot: number) => (
    <g>
      {hLevels.map(v => (
        <line key={v} x1={x0} x2={x1} y1={y(v)} y2={y(v)}
          stroke={Number.isInteger(v) ? '#6a6a6a' : '#8a8a8a'} strokeWidth={Number.isInteger(v) ? 1.6 : 1}
          strokeDasharray={Number.isInteger(v) ? undefined : '1.5,1.5'} />
      ))}
      {vt.map((d, i) => (
        <line key={i} x1={x(d)} x2={x(d)} y1={yTop} y2={yBot} stroke="#333" strokeWidth={1} strokeDasharray="3,2" />
      ))}
    </g>
  );
  const gridRain = (x0: number, x1: number, vt: Date[], x: any) => (
    <g>
      {[50, 100, 150, 200, 250].map(v => (
        <line key={v} x1={x0} x2={x1} y1={yRain(v)} y2={yRain(v)}
          stroke={v % 100 === 0 ? '#111' : '#808080'} strokeWidth={v % 100 === 0 ? 1.6 : 2.2} />
      ))}
      {vt.map((d, i) => (
        <line key={i} x1={x(d)} x2={x(d)} y1={1079} y2={1382} stroke="#333" strokeWidth={1} strokeDasharray="3,2" />
      ))}
    </g>
  );

  const labelsL = [
    { t: 'H16-6', x0: 97, x1: 163, cy: 407, c: C.h166 },
    { t: 'No.5', x0: 103, x1: 148, cy: 471, c: C.no5 },
    { t: 'H16-13', x0: 96, x1: 170, cy: 526, c: C.h1613 },
    { t: 'Loc.1b', x0: 90, x1: 159, cy: 653, c: C.loc1b },
    { t: 'H16-15', x0: 561, x1: 642, cy: 485, c: C.h1615 },
    { t: 'H26-3b', x0: 579, x1: 657, cy: 553, c: C.h263b },
    { t: 'H26-1b', x0: 582, x1: 660, cy: 581, c: '#A6A6A6' },
    { t: 'H26-1a', x0: 582, x1: 660, cy: 613, c: C.h261a },
    { t: 'Loc.1', x0: 588, x1: 642, cy: 683, c: C.loc1 },
    { t: 'H26-2', x0: 597, x1: 664, cy: 724, c: C.h262 },
  ];
  const labelsR = [
    { t: 'H26-1b', x0: 1436, x1: 1515, cy: 390, c: C.no5 },
    { t: 'H16-6', x0: 1447, x1: 1513, cy: 440, c: C.h166 },
    { t: 'H16-15', x0: 1445, x1: 1526, cy: 475, c: C.h1615 },
    { t: 'H16-13', x0: 1443, x1: 1523, cy: 531, c: C.h1613 },
    { t: 'H26-3b', x0: 1502, x1: 1581, cy: 564, c: C.h263b },
    { t: 'H26-1b', x0: 1724, x1: 1805, cy: 584, c: '#8C8C8C' },
    { t: 'H26-1a', x0: 1438, x1: 1516, cy: 615, c: C.h261a },
    { t: 'Loc.1', x0: 1450, x1: 1507, cy: 647, c: C.loc1 },
    { t: 'Loc.1b', x0: 1443, x1: 1512, cy: 680, c: C.loc1b },
    { t: 'H26-2', x0: 1443, x1: 1509, cy: 709, c: '#CC0000' },
  ];
  const notes = [
    { t: '対策工事', x0: 136, x1: 205, cy: 255 },
    { t: '平成20年3月1日～', x0: 97, x1: 242, cy: 283 },
    { t: '平成21年3月19日', x0: 101, x1: 238, cy: 310 },
    { t: '平成23年3月11日 東日本大震災発生', x0: 404, x1: 706, cy: 281 },
    { t: '震度：5強', x0: 410, x1: 487, cy: 305 },
    { t: '平成23年4月7日 余震：震度5弱', x0: 389, x1: 652, cy: 355 },
    { t: '令和4年3月16日 福島県沖', x0: 931, x1: 1173, cy: 257 },
    { t: '地震発生震度5強', x0: 1017, x1: 1173, cy: 284 },
    { t: '令和3年2月13日 福島県沖地震', x0: 859, x1: 1118, cy: 332 },
    { t: '発生震度5強', x0: 1012, x1: 1118, cy: 354 },
  ];
  const y19 = yLT(19);
  const e1 = xL(pd('2011-03-11')), e2 = xL(pd('2011-04-07')), e3 = xL(pd('2021-02-13')), e4 = xL(pd('2022-03-16'));
  const aA = xL(pd('2008-03-01')), aB = xL(pd('2009-03-19'));

  const legendR = [
    ['No.5', C.no5], ['Loc.1', C.loc1], ['Loc.1b', C.loc1b], ['H16-6', C.h166], ['H16-13', C.h1613],
    ['H16-15', C.h1615], ['H26-1a', C.h261a], ['H26-1b', C.h261b], ['H26-2', C.h262], ['H26-3b', C.h263b],
    ['岩淵堰開閉状況', C.dam],
  ];

  const damBox = (t: string, x0: number, y0: number, x1: number, y1: number) => (
    <g>
      <rect x={x0} y={y0} width={x1 - x0} height={y1 - y0} fill="#fff" stroke="#FF2020" strokeWidth={2} />
      <text x={(x0 + x1) / 2} y={(y0 + y1) / 2 + 8} fontSize={22} fontFamily={FONT} textAnchor="middle"
        textLength={x1 - x0 - 12} lengthAdjust="spacingAndGlyphs">{t}</text>
    </g>
  );
  const rainLegend = (x0: number, y0: number, x1: number, y1: number) => (
    <g>
      <rect x={x0} y={y0} width={x1 - x0} height={y1 - y0} fill="#fff" stroke="#000" strokeWidth={1.5} />
      <rect x={x0 + 17} y={y0 + 10} width={43} height={7} fill="#0000FF" />
      <text x={x0 + 63} y={y0 + 20} fontSize={16} fontFamily={FONT}>雨量</text>
      <line x1={x0 + 17} x2={x0 + 60} y1={y0 + 39} y2={y0 + 39} stroke="#FF0000" strokeWidth={3.5} />
      <text x={x0 + 63} y={y0 + 45} fontSize={16} fontFamily={FONT}>3ヶ月合計値</text>
    </g>
  );

  return (
    <svg width={2875} height={1456} viewBox="0 0 2875 1456"
      style={{ position: 'absolute', left: 0, top: 0, background: '#fff' }}>
      <defs>
        <clipPath id="cLT"><rect x={104} y={21} width={1253} height={1002} /></clipPath>
        <clipPath id="cRT"><rect x={1497} y={21} width={1252} height={996} /></clipPath>
      </defs>
      <rect x={0} y={0} width={2875} height={1456} fill="#fff" />

      {/* ============ LEFT TOP ============ */}
      {gridTop(104, 1357, yLT, vTicksL, xL, 21, 1023)}
      <g clipPath="url(#cLT)">
        {seriesL.map((s, i) => (
          <path key={i} d={lineL(s.p) || ''} fill="none" stroke={s.c} strokeWidth={2.3} strokeLinejoin="round" />
        ))}
        <path d={damL || ''} fill="none" stroke={C.dam} strokeWidth={2} />
      </g>
      <line x1={104} x2={104} y1={21} y2={1023} stroke="#000" strokeWidth={1.5} />
      <line x1={1357} x2={1357} y1={21} y2={1023} stroke="#000" strokeWidth={1.5} />
      <line x1={104} x2={1357} y1={21} y2={21} stroke="#000" strokeWidth={3.5} />
      <line x1={104} x2={1357} y1={1023} y2={1023} stroke="#000" strokeWidth={2.5} />

      {/* annotations */}
      {notes.map((n, i) => <Lbl key={i} t={n.t} x0={n.x0} x1={n.x1} cy={n.cy} size={17} />)}
      <g stroke="#000" strokeWidth={1.2} fill="none">
        <polyline points={`${e1},${y19} ${e1 + 38},${291} ${e1 + 44},${291}`} />
        <polyline points={`${e2},${y19} ${e2 + 13},${352} ${e2 + 22},${352}`} />
        <polyline points={`${e3},${y19} ${1133},${341} ${1120},${341}`} />
        <polyline points={`${e4},${y19} ${1192},${268} ${1184},${268}`} />
      </g>
      {[e1, e2, e3, e4].map((x, i) => <circle key={i} cx={x} cy={y19} r={2.8} fill="#000" />)}
      <line x1={aA + 12} x2={aB - 12} y1={330} y2={330} stroke="#000" strokeWidth={5} />
      <polygon points={`${aA},330 ${aA + 16},320 ${aA + 16},340`} fill="#000" />
      <polygon points={`${aB},330 ${aB - 16},320 ${aB - 16},340`} fill="#000" />

      {labelsL.map((l, i) => <Lbl key={i} t={l.t} x0={l.x0} x1={l.x1} cy={l.cy} color={l.c} size={18} />)}
      {damBox('岩淵堰閉', 190, 921, 290, 956)}
      {damBox('岩淵堰開', 190, 979, 290, 1014)}

      {/* title left */}
      <rect x={313} y={5} width={845} height={37} fill="#fff" stroke="#000" strokeWidth={1.5} />
      <text x={320} y={33} fontSize={22} fontFamily={FONT} textLength={832} lengthAdjust="spacingAndGlyphs">
        その他地点の地下水・浸透水の水位図(平成20年1月1日～令和5年9月30日)
      </text>
      <text x={85} y={520} fontSize={20} fontFamily={FONT} textAnchor="middle" textLength={146}
        lengthAdjust="spacingAndGlyphs" transform="rotate(-90 85 520)" dominantBaseline="middle">水位標高(EL.m)</text>
      <text x={715} y={1049} fontSize={21} fontFamily={FONT} textAnchor="middle">年月日</text>

      {/* ============ RIGHT TOP ============ */}
      {gridTop(1497, 2749, yRT, vTicksR, xR, 21, 1017)}
      <g clipPath="url(#cRT)">
        {seriesR.map((s, i) => (
          <path key={i} d={lineR(s.p) || ''} fill="none" stroke={s.c} strokeWidth={1.9} strokeLinejoin="round" />
        ))}
        <path d={damR || ''} fill="none" stroke={C.dam} strokeWidth={2.2} />
      </g>
      <line x1={1497} x2={1497} y1={21} y2={1017} stroke="#000" strokeWidth={1.5} />
      <line x1={2749} x2={2749} y1={21} y2={1017} stroke="#000" strokeWidth={1.5} />
      <line x1={1497} x2={2749} y1={21} y2={21} stroke="#000" strokeWidth={3.5} />
      <line x1={1497} x2={2749} y1={1017} y2={1017} stroke="#000" strokeWidth={2.5} />
      {d3.range(10, 24).map(v => (
        <text key={v} x={2769} y={yRT(v) + 7} fontSize={20} fontFamily={FONT}>{v}</text>
      ))}
      {labelsR.map((l, i) => <Lbl key={i} t={l.t} x0={l.x0} x1={l.x1} cy={l.cy} color={l.c} size={18} />)}
      {/* legend */}
      <rect x={1517} y={728} width={181} height={282} fill="#fff" stroke="#000" strokeWidth={1.5} />
      {legendR.map(([t, c], i) => {
        const yy = 742 + i * 25.5;
        return (
          <g key={i}>
            <line x1={1525} x2={1568} y1={yy} y2={yy} stroke={c} strokeWidth={2.5} />
            <text x={1572} y={yy + 6} fontSize={16} fontFamily={FONT}>{t}</text>
          </g>
        );
      })}
      {damBox('岩淵堰閉', 1727, 917, 1827, 951)}
      {damBox('岩淵堰開', 1725, 974, 1827, 1009)}
      <rect x={1700} y={6} width={846} height={35} fill="#fff" stroke="#000" strokeWidth={1.5} />
      <text x={1707} y={33} fontSize={22} fontFamily={FONT} textLength={833} lengthAdjust="spacingAndGlyphs">
        その他地点の地下水・浸透水の水位図(令和5年10月1日～令和7年9月30日)
      </text>
      <text x={2120} y={1049} fontSize={21} fontFamily={FONT} textAnchor="middle">年月日</text>

      {/* ============ LEFT BOTTOM ============ */}
      {gridRain(104, 1357, vTicksL, xL)}
      {barsL.map(([d, v], i) => (
        <rect key={i} x={xL(d)} y={yRain(v)} width={1.6} height={yRain(0) - yRain(v)} fill="#0000FF" />
      ))}
      <path d={stepL || ''} fill="none" stroke="#FF0000" strokeWidth={3.5} />
      <rect x={104} y={1079} width={1253} height={303} fill="none" stroke="#000" strokeWidth={1.5} />
      <line x1={104} x2={1357} y1={1079} y2={1079} stroke="#000" strokeWidth={3.5} />
      <line x1={104} x2={1357} y1={1382} y2={1382} stroke="#000" strokeWidth={2.5} />
      {rainLegend(111, 1089, 280, 1142)}
      {d3.range(0, 301, 50).map(v => (
        <text key={v} x={86} y={yRain(v) + 6} fontSize={17} fontFamily={FONT} textAnchor="end">{v}</text>
      ))}
      {d3.range(0, 901, 150).map(v => (
        <text key={v} x={1374} y={yRain3(v) + 6} fontSize={17} fontFamily={FONT}>{v}</text>
      ))}
      {labTicksL.map((d, i) => (
        <text key={i} x={xL(d)} y={1395} fontSize={16} fontFamily={FONT} dominantBaseline="middle"
          transform={`rotate(90 ${xL(d)} 1395)`}>{eraLabel(d)}</text>
      ))}
      <text x={25} y={1228} fontSize={20} fontFamily={FONT} textAnchor="middle" dominantBaseline="middle"
        textLength={118} lengthAdjust="spacingAndGlyphs" transform="rotate(-90 25 1228)">日雨量(mm)</text>

      {/* ============ RIGHT BOTTOM ============ */}
      {gridRain(1497, 2747, vTicksR, xRB)}
      {barsR.map(([d, v], i) => (
        <rect key={i} x={xRB(d)} y={yRain(v)} width={1.8} height={yRain(0) - yRain(v)} fill="#0000FF" />
      ))}
      <path d={stepR || ''} fill="none" stroke="#FF0000" strokeWidth={3.5} />
      <rect x={1497} y={1079} width={1250} height={303} fill="none" stroke="#000" strokeWidth={1.5} />
      <line x1={1497} x2={2747} y1={1079} y2={1079} stroke="#000" strokeWidth={3.5} />
      <line x1={1497} x2={2747} y1={1382} y2={1382} stroke="#000" strokeWidth={2.5} />
      {rainLegend(1506, 1086, 1674, 1139)}
      {d3.range(0, 301, 50).map(v => (
        <text key={v} x={1479} y={yRain(v) + 6} fontSize={17} fontFamily={FONT} textAnchor="end">{v}</text>
      ))}
      {d3.range(0, 901, 150).map(v => (
        <text key={v} x={2761} y={yRain3(v) + 6} fontSize={17} fontFamily={FONT}>{v}</text>
      ))}
      {labTicksR.map((d, i) => (
        <text key={i} x={xRB(d)} y={1395} fontSize={16} fontFamily={FONT} dominantBaseline="middle"
          transform={`rotate(90 ${xRB(d)} 1395)`}>{eraLabel(d)}</text>
      ))}
      <text x={2836} y={1227} fontSize={20} fontFamily={FONT} textAnchor="middle" dominantBaseline="middle"
        textLength={204} lengthAdjust="spacingAndGlyphs" transform="rotate(90 2836 1227)">3ヶ月合計雨量(mm)</text>
    </svg>
  );
}
